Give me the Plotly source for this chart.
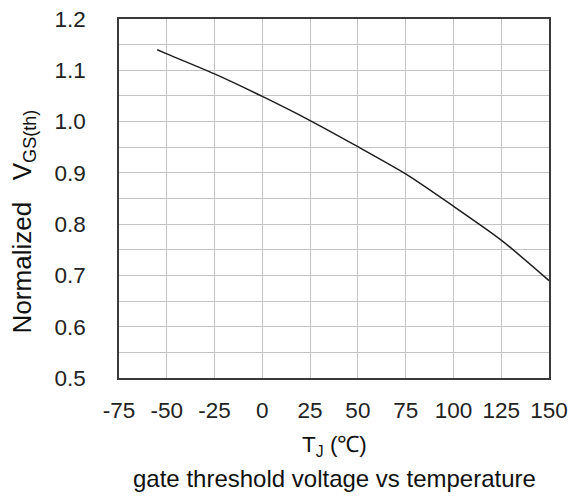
import plotly.graph_objects as go

# Junction temperature (°C) and normalized gate threshold voltage
tj = [-55, -50, -25, 0, 25, 50, 75, 100, 125, 150]
vgs_norm = [1.140, 1.132, 1.093, 1.049, 1.002, 0.951, 0.898, 0.835, 0.769, 0.690]

x_ticks = [-75, -50, -25, 0, 25, 50, 75, 100, 125, 150]
y_ticks = [0.5, 0.6, 0.7, 0.8, 0.9, 1.0, 1.1, 1.2]

FONT = "Liberation Sans, Arial, sans-serif"
GRID = "#c4c4c4"
AXIS = "#3a3a3a"

fig = go.Figure()
fig.add_trace(go.Scatter(
    x=tj, y=vgs_norm, mode="lines",
    line=dict(color="#1e1e1e", width=1.5, shape="spline", smoothing=0.6),
    showlegend=False, hoverinfo="skip",
))

fig.update_xaxes(
    range=[-75, 150], tickmode="array", tickvals=x_ticks,
    ticktext=[str(v) for v in x_ticks],
    showgrid=True, gridcolor=GRID, gridwidth=1,
    showline=True, linecolor=AXIS, linewidth=1.5, mirror=True,
    zeroline=False, ticks="", ticklabelstandoff=11, automargin=False,
    tickfont=dict(family=FONT, size=22.5, color="#222"),
)
fig.update_yaxes(
    range=[0.5, 1.2], tickmode="array", tickvals=y_ticks,
    ticktext=[f"{v:.1f}" for v in y_ticks],
    showgrid=True, gridcolor=GRID, gridwidth=1,
    minor=dict(dtick=0.05, tick0=0.5, showgrid=True, gridcolor=GRID, gridwidth=1, ticks=""),
    showline=True, linecolor=AXIS, linewidth=1.5, mirror=True,
    zeroline=False, ticks="", ticklabelstandoff=27, automargin=False,
    tickfont=dict(family=FONT, size=22.5, color="#222"),
)

annotations = [
    dict(text="Normalized&nbsp;&nbsp;&nbsp;V<sub><span style='font-size:18px'>GS(th)</span></sub>",
         textangle=-90,
         xref="paper", yref="paper", x=-0.222, y=0.435,
         xanchor="center", yanchor="middle", showarrow=False,
         font=dict(family=FONT, size=26, color="#111")),
    dict(text="T<sub>J</sub> (℃)",
         xref="paper", yref="paper", x=0.5, y=-0.19,
         xanchor="center", yanchor="middle", showarrow=False,
         font=dict(family=FONT, size=22.5, color="#111")),
    dict(text="gate threshold voltage vs temperature",
         xref="paper", yref="paper", x=0.5, y=-0.28,
         xanchor="center", yanchor="middle", showarrow=False,
         font=dict(family=FONT, size=24, color="#111")),
]

fig.update_layout(
    width=569, height=496,
    margin=dict(l=119, r=20, t=19, b=118),
    paper_bgcolor="white", plot_bgcolor="white",
    annotations=annotations,
)

fig.write_html("out.html")
